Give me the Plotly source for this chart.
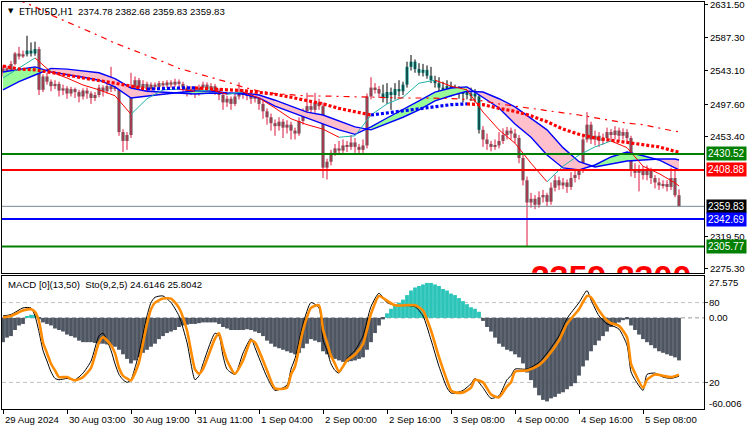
import plotly.graph_objects as go

# ---------------- DATA ----------------
closes = [2546, 2540, 2552, 2566, 2562, 2565, 2570, 2566, 2572, 2517,
          2535, 2528, 2522, 2525, 2516, 2519, 2512, 2518, 2514, 2508,
          2516, 2512, 2506, 2510, 2520, 2515, 2522, 2518, 2525, 2460,
          2448, 2456, 2520, 2530, 2520, 2525, 2518, 2524, 2521, 2526,
          2523, 2527, 2524, 2528, 2525, 2520, 2515, 2518, 2512, 2520,
          2524, 2518, 2522, 2516, 2510, 2500, 2505, 2498, 2508, 2514,
          2510, 2512, 2505, 2508, 2498, 2488, 2480, 2472, 2468, 2474,
          2466, 2470, 2462, 2458, 2475, 2488, 2495, 2490, 2500, 2495,
          2412, 2420, 2432, 2438, 2435, 2442, 2440, 2446, 2440, 2436,
          2442, 2508, 2520, 2518, 2512, 2506, 2514, 2510, 2518, 2515,
          2524, 2548, 2555, 2545, 2540, 2544, 2536, 2530, 2526, 2520,
          2517, 2522, 2515, 2518, 2512, 2514, 2510, 2512, 2508, 2463,
          2450, 2444, 2440, 2442, 2448, 2456, 2462, 2458, 2452, 2425,
          2395, 2365, 2370, 2362, 2372, 2375, 2366, 2385, 2395, 2388,
          2392, 2386, 2398, 2402, 2410, 2450, 2470, 2450, 2455, 2448,
          2452, 2460, 2456, 2462, 2455, 2460, 2452, 2410, 2405, 2410,
          2402, 2408, 2398, 2392, 2388, 2390, 2386, 2398, 2374.78, 2359.83]

opens = [2540, 2546, 2540, 2552, 2566, 2562, 2565, 2570, 2566, 2572,
         2517, 2535, 2528, 2522, 2525, 2516, 2519, 2512, 2518, 2514,
         2508, 2516, 2512, 2506, 2510, 2520, 2515, 2522, 2518, 2525,
         2460, 2448, 2456, 2520, 2530, 2520, 2525, 2518, 2524, 2521,
         2526, 2523, 2527, 2524, 2528, 2525, 2520, 2515, 2518, 2512,
         2520, 2524, 2518, 2522, 2516, 2510, 2500, 2505, 2498, 2508,
         2514, 2510, 2512, 2505, 2508, 2498, 2488, 2480, 2472, 2468,
         2474, 2466, 2470, 2462, 2458, 2475, 2488, 2495, 2490, 2500,
         2495, 2412, 2420, 2432, 2438, 2435, 2442, 2440, 2446, 2440,
         2436, 2442, 2508, 2520, 2518, 2512, 2506, 2514, 2510, 2518,
         2515, 2524, 2548, 2555, 2545, 2540, 2544, 2536, 2530, 2526,
         2520, 2517, 2522, 2515, 2518, 2512, 2514, 2510, 2512, 2508,
         2463, 2450, 2444, 2440, 2442, 2448, 2456, 2462, 2458, 2452,
         2425, 2395, 2365, 2370, 2362, 2372, 2375, 2366, 2385, 2395,
         2388, 2392, 2386, 2398, 2402, 2410, 2450, 2470, 2450, 2455,
         2448, 2452, 2460, 2456, 2462, 2455, 2460, 2452, 2410, 2405,
         2410, 2402, 2408, 2398, 2392, 2388, 2390, 2386, 2398, 2374.78]

highs = [2550, 2549, 2556, 2568, 2575, 2570, 2590, 2581, 2582, 2575,
         2538, 2540, 2531, 2530, 2528, 2524, 2522, 2521, 2520, 2517,
         2519, 2520, 2515, 2514, 2524, 2523, 2527, 2548, 2530, 2528,
         2464, 2460, 2540, 2535, 2533, 2530, 2528, 2527, 2527, 2529,
         2529, 2530, 2530, 2532, 2531, 2528, 2523, 2522, 2520, 2524,
         2528, 2527, 2526, 2525, 2519, 2514, 2509, 2508, 2512, 2527,
         2518, 2516, 2515, 2513, 2511, 2502, 2492, 2485, 2477, 2480,
         2478, 2476, 2474, 2466, 2480, 2492, 2513, 2500, 2513, 2505,
         2500, 2424, 2436, 2444, 2448, 2450, 2448, 2456, 2452, 2444,
         2450, 2512, 2534, 2526, 2522, 2524, 2526, 2520, 2526, 2530,
         2528, 2555, 2564, 2558, 2553, 2552, 2550, 2548, 2536, 2534,
         2528, 2530, 2528, 2524, 2522, 2520, 2518, 2520, 2518, 2514,
         2468, 2458, 2448, 2450, 2460, 2465, 2467, 2466, 2464, 2456,
         2430, 2400, 2378, 2375, 2380, 2382, 2378, 2392, 2402, 2400,
         2398, 2396, 2406, 2412, 2420, 2455, 2487, 2474, 2462, 2460,
         2458, 2466, 2464, 2468, 2466, 2465, 2464, 2455, 2418, 2416,
         2414, 2415, 2412, 2402, 2398, 2395, 2395, 2412, 2410, 2382.68]

lows = [2535, 2536, 2538, 2550, 2558, 2560, 2562, 2562, 2563, 2510,
        2514, 2524, 2515, 2518, 2508, 2510, 2505, 2508, 2506, 2500,
        2504, 2505, 2498, 2502, 2507, 2508, 2512, 2514, 2515, 2455,
        2433, 2436, 2452, 2515, 2512, 2516, 2513, 2514, 2517, 2518,
        2519, 2520, 2520, 2521, 2521, 2514, 2508, 2510, 2506, 2509,
        2516, 2512, 2514, 2510, 2503, 2490, 2494, 2490, 2495, 2504,
        2505, 2503, 2498, 2500, 2490, 2478, 2470, 2462, 2455, 2462,
        2452, 2458, 2450, 2450, 2455, 2470, 2484, 2484, 2486, 2490,
        2398, 2396, 2415, 2428, 2430, 2432, 2433, 2436, 2432, 2430,
        2432, 2438, 2504, 2512, 2506, 2500, 2498, 2490, 2504, 2508,
        2510, 2520, 2543, 2540, 2536, 2535, 2532, 2526, 2520, 2514,
        2510, 2512, 2508, 2510, 2505, 2500, 2504, 2502, 2500, 2458,
        2440, 2436, 2434, 2436, 2438, 2444, 2450, 2450, 2445, 2418,
        2388, 2306, 2358, 2356, 2358, 2365, 2360, 2362, 2380, 2382,
        2383, 2378, 2382, 2392, 2396, 2405, 2446, 2444, 2442, 2440,
        2443, 2447, 2448, 2450, 2448, 2450, 2445, 2400, 2398, 2380,
        2396, 2395, 2390, 2384, 2382, 2384, 2380, 2382, 2372, 2359.83]

# indicator lines (sampled at bar indices)
ma_idx = [0, 4, 8, 12, 16, 20, 24, 28, 32, 36, 40, 44, 48, 52, 56, 60, 64, 68, 72, 76,
          80, 84, 88, 92, 96, 100, 104, 108, 112, 116, 120, 124, 128, 132, 136, 140,
          144, 148, 152, 156, 160, 164, 168, 169]
fast_ma = [2533, 2546.5, 2560, 2541, 2533, 2523.5, 2517, 2509, 2484, 2505,
           2517, 2518, 2515, 2517, 2511, 2514, 2506, 2492.5, 2478, 2470,
           2464, 2453, 2455, 2483, 2498, 2507, 2526, 2530, 2522, 2517,
           2487, 2463, 2445, 2418, 2393, 2414, 2429, 2440, 2448, 2439,
           2414, 2404, 2391.4, 2387.3]
ema_a = [2541, 2544, 2548, 2541, 2538, 2534, 2530, 2521, 2506, 2509,
         2511, 2513.5, 2515.4, 2515.4, 2512.7, 2511.4, 2506, 2495, 2487, 2479,
         2472, 2463, 2457, 2467, 2479, 2490, 2502, 2514, 2519.5, 2521,
         2507, 2492.5, 2471, 2453, 2429, 2411.6, 2409, 2415.6, 2426.4, 2433,
         2428, 2422.4, 2411.6, 2409]
ema_b = [2517, 2528, 2537, 2546, 2545, 2542, 2540, 2532, 2519.5, 2515,
         2514, 2513, 2511.4, 2512.7, 2512, 2512.7, 2510, 2503, 2495, 2487,
         2483, 2475, 2467, 2463, 2471, 2480, 2490, 2502, 2509, 2515,
         2514, 2505, 2494, 2479, 2463, 2439, 2420, 2413, 2417, 2421,
         2422.4, 2423.7, 2423.7, 2422.4]
dot_ma = [2549, 2545, 2544, 2541, 2537, 2533, 2530, 2526, 2522, 2518,
          2519, 2519.5, 2519.6, 2518.8, 2517, 2516, 2514, 2511, 2507, 2503,
          2498, 2492, 2487, 2483, 2486, 2488, 2492, 2495, 2497, 2498,
          2497, 2492, 2488, 2482, 2474, 2464, 2457, 2452, 2449, 2447,
          2443, 2440, 2434, 2433]
long_idx = [4, 8, 12, 16, 20, 24, 28, 32, 36, 40, 44, 48, 52, 56, 60, 64, 68, 72, 76,
            80, 84, 88, 92, 96, 100, 104, 108, 112, 116, 120, 124, 128, 132, 136, 140,
            144, 148, 152, 156, 160, 164, 168, 169]
long_ma = [2638, 2629, 2618, 2609, 2599, 2590, 2580, 2572, 2563, 2555,
           2546, 2540, 2533, 2527.6, 2520.8, 2515.4, 2512, 2510, 2508.7, 2508.7,
           2508, 2507.3, 2507.3, 2506.6, 2506, 2506, 2506, 2505.3, 2504, 2502,
           2498, 2495, 2491, 2488, 2486, 2483, 2479, 2476, 2472, 2470,
           2465, 2461, 2460.5]

# MACD histogram (one per bar)
macd_hist = [-16, -13, -12, -8, -5, -4, 1, 2, 2, -1,
             -3, -4, -5, -7, -8, -9, -11, -12, -13, -15,
             -16, -16, -16, -16.5, -17, -17, -17.5, -18, -19, -21,
             -24, -27, -30, -28, -26, -23, -21, -19, -17, -14,
             -12, -10, -9, -8, -6, -5, -4.5, -4, -4, -3.5,
             -3, -3, -3, -3, -4, -6, -7, -8, -8, -8,
             -8, -7.5, -8, -9, -10, -12, -15, -17, -19, -20,
             -21, -22, -23, -24, -23, -20, -17, -14, -15, -16,
             -22, -24, -26, -27, -28, -29, -29, -28.5, -28, -27,
             -26, -21, -16, -10, -5, -1, 3, 6, 8, 10,
             12, 15, 18, 20, 21, 22, 23, 23, 22, 21,
             19, 18, 16, 15, 13, 11, 9, 7, 6, 4,
             -2, -6, -9, -13, -17, -19, -21, -22, -24, -26,
             -30, -36, -41, -46, -51, -54, -55, -53, -52, -50,
             -49, -47, -45, -43, -38, -32, -28, -22, -18, -15,
             -12, -9, -6, -4, -3, -1.5, -1, -5, -8, -11,
             -14, -16, -18, -20, -22, -23, -24, -25, -26, -28]

# Stochastic (9,2,5)
stoch_idx = [0, 2, 5, 7, 8, 9, 10, 11, 12, 13,
             14, 16, 18, 20, 22, 24, 25, 27, 28, 29,
             30, 31, 32, 33, 34, 36, 37, 38, 40, 42,
             44, 46, 48, 49, 50, 53, 54, 55, 56, 58,
             60, 62, 63, 66, 68, 71, 72, 73, 75, 77,
             79, 80, 81, 82, 83, 84, 86, 88, 90, 92,
             94, 96, 98, 103, 105, 107, 109, 111, 112, 113,
             115, 117, 118, 120, 122, 124, 126, 127, 128, 131,
             134, 136, 139, 141, 144, 146, 147, 149, 151, 152,
             154, 156, 157, 158, 160, 161, 163, 165, 167, 169]
stoch_sig = [69, 70, 74, 75, 73, 66, 50, 42, 34, 29,
             24, 24, 21.5, 24, 31, 50, 54, 48, 42, 31,
             25, 23, 21.5, 27, 35, 64, 75, 80, 83, 83,
             76, 59, 30, 26.5, 30, 53, 57, 46, 36.5, 26.5,
             36.5, 51.5, 50, 29, 15.5, 16, 26, 32, 59, 76,
             78, 60, 50, 40, 34, 28, 36.5, 41, 49, 71.5,
             85, 81.5, 78, 78, 74, 59, 39, 21.5, 14, 12.5,
             12.5, 16, 22, 20, 11, 8.8, 17, 20, 28, 29,
             33, 39, 51.5, 64, 75, 85, 84, 74, 66.5, 64.5,
             62.5, 54, 34, 27, 16, 22, 26, 25, 24, 25.8042]
stoch_main = [70, 71, 76, 76, 70, 58, 44, 36, 28, 23,
              22, 23, 22, 27, 36, 55, 57, 44, 34, 26,
              22, 20, 22, 31, 42, 70, 80, 84, 85, 80,
              70, 50, 22, 25, 34, 57, 55, 40, 30, 26,
              42, 53, 46, 24, 14, 18, 30, 38, 64, 80,
              76, 52, 44, 34, 29, 27, 38, 44, 55, 77,
              87, 80, 78, 77, 70, 52, 32, 16, 12, 12,
              14, 19, 23, 16, 8, 10, 22, 25, 30, 30,
              35, 42, 55, 68, 80, 89, 82, 70, 64, 63,
              60, 48, 28, 22, 14, 26, 27, 24, 23, 24.6146]

level_values = [2430.52, 2408.88, 2359.83, 2342.69, 2305.77]
time_tick_idx = [0, 16, 32, 48, 64, 80, 96, 112, 128, 144, 160]
time_labels = ["29 Aug 2024", "30 Aug 03:00", "30 Aug 19:00", "31 Aug 11:00",
               "1 Sep 04:00", "2 Sep 00:00", "2 Sep 16:00", "3 Sep 08:00",
               "4 Sep 00:00", "4 Sep 16:00", "5 Sep 08:00"]
price_ticks = [2631.50, 2587.30, 2543.10, 2497.60, 2453.40, 2319.50, 2275.30]
symbol_text = "ETHUSD,H1"
ohlc_text = "2374.78 2382.68 2359.83 2359.83"
sub_text = "MACD [0](13,50)  Sto(9,2,5) 24.6146 25.8042"
big_label = "2359.8300"
macd_range = [-60.006, 27.575]

# ---------------- STYLE ----------------
FONT = "Liberation Sans"
TEAL_RANGES = [(6, 8), (95, 119)]
level_colors = ["#008000", "#FF0000", "#778899", "#0000FF", "#008000"]
level_box = ["#008000", "#FF0000", "#000000", "#0000FF", "#008000"]
level_width = [2, 2, 1, 2, 2]

fig = go.Figure()
N = len(closes)
xs = list(range(N))
teal_set = set()
for a, b in TEAL_RANGES:
    teal_set.update(range(a, b + 1))

# candle bodies
fig.add_trace(go.Bar(
    x=xs, base=[min(o, c) for o, c in zip(opens, closes)],
    y=[max(abs(c - o), 1.0) for o, c in zip(opens, closes)],
    width=0.8, marker_color=["#20A39B" if i in teal_set else "#666666" for i in xs],
    marker_line_width=0, xaxis="x", yaxis="y", hoverinfo="skip"))


def wicks(indices):
    wx, wy = [], []
    for i in indices:
        wx += [i, i, None]
        wy += [lows[i], highs[i], None]
    return wx, wy


wx, wy = wicks([i for i in xs if i not in teal_set])
fig.add_trace(go.Scatter(x=wx, y=wy, mode="lines", line=dict(color="#DC143C", width=1),
                         xaxis="x", yaxis="y", hoverinfo="skip"))
wx, wy = wicks(sorted(teal_set))
fig.add_trace(go.Scatter(x=wx, y=wy, mode="lines", line=dict(color="#000000", width=1),
                         xaxis="x", yaxis="y", hoverinfo="skip"))


def runs(n_int, key):
    out, s = [], 0
    for k in range(1, n_int):
        if key(k) != key(s):
            out.append((s, k, key(s)))
            s = k
    out.append((s, n_int, key(s)))
    return out


# ribbon fill
M = len(ma_idx)
for s, e, up in runs(M - 1, lambda k: (ema_a[k] + ema_a[k + 1]) >= (ema_b[k] + ema_b[k + 1])):
    px_ = ma_idx[s:e + 1]
    fig.add_trace(go.Scatter(
        x=px_ + px_[::-1], y=ema_a[s:e + 1] + ema_b[s:e + 1][::-1], fill="toself",
        fillcolor="#98FB98" if up else "#FFC0CB", line=dict(width=0), mode="lines",
        xaxis="x", yaxis="y", hoverinfo="skip"))
for vals in (ema_a, ema_b):
    fig.add_trace(go.Scatter(x=ma_idx, y=vals, mode="lines", line=dict(color="#0000FF", width=1.4),
                             xaxis="x", yaxis="y", hoverinfo="skip"))

# fast MA two-colour
for s, e, up in runs(M - 1, lambda k: fast_ma[k + 1] >= fast_ma[k]):
    fig.add_trace(go.Scatter(x=ma_idx[s:e + 1], y=fast_ma[s:e + 1], mode="lines",
                             line=dict(color="#20B2AA" if up else "#FF0000", width=1),
                             xaxis="x", yaxis="y", hoverinfo="skip"))

# dotted MA two-colour
for s, e, up in runs(M - 1, lambda k: dot_ma[k + 1] >= dot_ma[k]):
    fig.add_trace(go.Scatter(x=ma_idx[s:e + 1], y=dot_ma[s:e + 1], mode="lines",
                             line=dict(color="#0000FF" if up else "#FF0000", width=3.2, dash="3px,2px"),
                             xaxis="x", yaxis="y", hoverinfo="skip"))

# long MA dash-dot
fig.add_trace(go.Scatter(x=long_idx, y=long_ma, mode="lines",
                         line=dict(color="#FF0000", width=1.2, dash="6px,5px,2px,5px"),
                         xaxis="x", yaxis="y", hoverinfo="skip"))

# big clipped label at bottom of main panel
fig.add_trace(go.Scatter(x=[152], y=[2283], mode="text", text=["<b>" + big_label + "</b>"],
                         textposition="bottom center",
                         textfont=dict(family=FONT, size=34, color="#FF0000"),
                         xaxis="x", yaxis="y", hoverinfo="skip", cliponaxis=True))

# MACD histogram
fig.add_trace(go.Bar(x=xs, y=macd_hist, width=0.95,
                     marker_color=["#2BC4B9" if v > 0 else "#4D5561" for v in macd_hist],
                     marker_line_width=0, xaxis="x2", yaxis="y2", hoverinfo="skip"))
# stochastic
fig.add_trace(go.Scatter(x=stoch_idx, y=stoch_main, mode="lines",
                         line=dict(color="#000000", width=1, shape="spline", smoothing=0.6),
                         xaxis="x2", yaxis="y3", hoverinfo="skip"))
fig.add_trace(go.Scatter(x=stoch_idx, y=stoch_sig, mode="lines",
                         line=dict(color="#FF8C00", width=2.6, shape="spline", smoothing=0.6),
                         xaxis="x2", yaxis="y3", hoverinfo="skip"))

shapes = []
for v, c, w in zip(level_values, level_colors, level_width):
    shapes.append(dict(type="line", xref="x domain", yref="y", x0=0, x1=1, y0=v, y1=v,
                       line=dict(color=c, width=w), layer="above"))
for v, c in ((80, "#C0C0C0"), (20, "#C0C0C0")):
    shapes.append(dict(type="line", xref="x2 domain", yref="y3", x0=0, x1=1, y0=v, y1=v,
                       line=dict(color=c, width=1, dash="4px,3px"), layer="below"))
shapes.append(dict(type="line", xref="x2 domain", yref="y2", x0=0, x1=1, y0=0, y1=0,
                   line=dict(color="#9A9A9A", width=1, dash="4px,3px"), layer="below"))

ann = []
for v, c in zip(level_values, level_box):
    ann.append(dict(x=1, xref="paper", xanchor="left", xshift=2, y=v, yref="y", yanchor="middle",
                    text=f"{v:.2f}", showarrow=False, bgcolor=c, borderpad=1,
                    font=dict(family=FONT, size=10, color="#FFFFFF")))
ann.append(dict(x=0, xref="paper", xanchor="left", xshift=15, y=1, yref="paper", yanchor="top",
                yshift=-2, text=symbol_text, showarrow=False,
                font=dict(family="DejaVu Sans", size=9.3, color="#000000")))
ann.append(dict(x=0, xref="paper", xanchor="left", xshift=74, y=1, yref="paper", yanchor="top",
                yshift=-2, text=ohlc_text, showarrow=False,
                font=dict(family=FONT, size=9.6, color="#000000")))
ann.append(dict(x=0, xref="paper", xanchor="left", xshift=4, y=1, yref="paper", yanchor="top",
                yshift=-3, text="▼", showarrow=False, font=dict(family="DejaVu Sans", size=7, color="#000000")))
ann.append(dict(x=0, xref="paper", xanchor="left", xshift=4, y=1, yref="y2 domain", yanchor="top",
                yshift=-1, text=sub_text, showarrow=False,
                font=dict(family=FONT, size=9.6, color="#000000")))
for i, t in zip(time_tick_idx, time_labels):
    ann.append(dict(x=i, xref="x2", xanchor="left", xshift=0, y=0, yref="paper", yanchor="top",
                    yshift=-3, text=t, showarrow=False, font=dict(family=FONT, size=9.6, color="#000000")))
for txt, val, ref in (("27.575", 23.6, "y2"), ("80", 80, "y3"), ("0.00", 0, "y2"),
                      ("20", 20, "y3"), ("-60.006", -56.1, "y2")):
    ann.append(dict(x=1, xref="paper", xanchor="left", xshift=3, y=val, yref=ref, yanchor="middle",
                    text=txt, showarrow=False, font=dict(family=FONT, size=9.6, color="#000000")))

axis_common = dict(showgrid=False, zeroline=False, showline=True, mirror=True,
                   linecolor="#000000", linewidth=1, automargin=False)
fig.update_layout(
    width=750, height=430, margin=dict(l=2, r=46, t=2, b=21, autoexpand=False),
    paper_bgcolor="#FFFFFF", plot_bgcolor="#FFFFFF", showlegend=False, barmode="overlay",
    xaxis=dict(domain=[0, 1], range=[-0.25, 175.25], anchor="y", showticklabels=False,
               ticks="", **axis_common),
    yaxis=dict(domain=[0.3342, 1], range=[2269.9, 2635.5], anchor="x", side="right",
               tickvals=price_ticks, ticktext=[f"{v:.2f}" for v in price_ticks],
               ticks="outside", ticklen=3, tickcolor="#000000", ticklabeloverflow="allow",
               tickfont=dict(family=FONT, size=9.6, color="#000000"), **axis_common),
    xaxis2=dict(domain=[0, 1], range=[-0.25, 175.25], anchor="y2", matches="x",
                tickvals=time_tick_idx, ticks="outside", ticklen=4, tickcolor="#000000",
                showticklabels=False, **axis_common),
    yaxis2=dict(domain=[0, 0.3268], range=macd_range, anchor="x2", side="right",
                showticklabels=False, ticks="", **axis_common),
    yaxis3=dict(overlaying="y2", range=[0, 100], anchor="x2", side="right", automargin=False,
                showticklabels=False, tickvals=[80, 20], ticks="outside", ticklen=3,
                showgrid=False, zeroline=False, showline=False),
    shapes=shapes, annotations=ann,
)

fig.write_html("out.html")
